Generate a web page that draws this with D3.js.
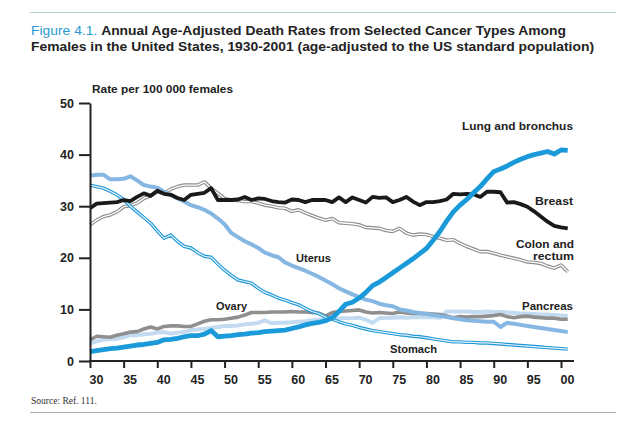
<!DOCTYPE html>
<html><head><meta charset="utf-8">
<script src="https://cdn.jsdelivr.net/npm/d3@7"></script>
<style>
html,body{margin:0;padding:0;background:#fff;}
svg{display:block;font-family:"Liberation Sans",Arial,Helvetica,sans-serif;}
</style></head>
<body>
<svg id="chart" width="640" height="423"></svg>
<script>
const startYear = 1930;
const endYear = 2001;
const xTickValues = [1930,1935,1940,1945,1950,1955,1960,1965,1970,1975,1980,1985,1990,1995,2000];
const yTickValues = [0,10,20,30,40,50];

const lung = [1.8,2.0,2.2,2.4,2.5,2.7,2.9,3.1,3.2,3.4,3.6,4.1,4.2,4.4,4.7,4.9,4.9,5.2,5.9,4.7,
  4.8,4.9,5.1,5.2,5.4,5.5,5.7,5.8,5.9,6.0,6.3,6.6,7.0,7.3,7.5,7.8,8.4,9.6,11.0,11.4,
  12.2,13.3,14.6,15.3,16.2,17.1,18.0,18.9,19.8,20.8,21.8,23.4,25.1,27.1,28.9,30.2,31.3,32.6,33.8,35.3,
  36.7,37.2,37.8,38.5,39.1,39.6,40.0,40.3,40.6,40.1,40.9,40.8];
const breast = [29.6,30.5,30.6,30.7,30.8,31.2,31.0,31.8,32.5,32.0,33.0,32.4,32.2,31.6,31.2,32.2,32.4,32.6,33.5,31.2,
  31.2,31.2,31.3,31.8,31.2,31.5,31.4,31.0,30.8,30.7,31.3,31.2,30.8,31.2,31.2,31.2,30.8,31.7,30.8,31.7,
  31.2,30.7,31.8,31.6,31.7,30.8,31.2,31.8,30.9,30.2,30.8,30.8,31.0,31.3,32.4,32.3,32.4,32.3,31.8,32.8,
  32.8,32.7,30.7,30.8,30.4,29.9,29.0,28.0,27.0,26.2,25.9,25.7];
const colon = [26.4,27.3,28.0,28.3,28.9,29.9,30.1,30.6,31.5,32.0,32.8,32.5,33.3,33.8,34.1,34.1,34.1,34.7,33.5,32.5,
  31.5,31.2,31.1,30.9,30.9,30.6,30.2,30.0,29.7,29.6,29.0,29.3,28.7,28.2,27.7,27.3,27.6,26.8,26.7,26.6,
  26.4,25.9,25.8,25.7,25.3,25.1,25.7,24.8,24.4,24.6,24.5,24.1,23.8,23.4,23.5,22.8,22.2,21.7,21.2,21.2,
  20.9,20.5,20.2,19.9,19.6,19.2,19.1,18.9,18.4,18.0,18.6,17.3];
const stomach = [34.1,33.8,33.5,32.9,32.2,31.3,30.0,28.9,27.8,26.7,25.2,23.8,24.4,23.2,22.2,21.9,21.0,20.3,20.1,18.8,
  17.6,16.6,15.7,15.4,15.1,14.1,13.3,12.8,12.2,11.8,11.3,10.9,10.2,9.6,9.2,8.5,8.1,7.6,7.2,6.9,
  6.5,6.2,5.9,5.7,5.5,5.3,5.1,5.0,4.8,4.7,4.5,4.3,4.1,3.9,3.7,3.7,3.6,3.6,3.5,3.5,
  3.4,3.3,3.2,3.1,3.0,2.9,2.8,2.7,2.6,2.5,2.4,2.3];
const uterus = [35.9,36.1,36.1,35.2,35.2,35.3,35.8,35.0,34.1,33.8,33.6,32.8,32.2,31.5,30.9,30.2,29.8,29.3,28.6,27.6,
  26.5,24.8,24.0,23.2,22.6,21.9,21.0,20.5,20.1,19.1,18.5,18.0,17.5,16.9,16.3,15.6,14.9,14.1,13.5,12.9,
  12.4,11.9,11.6,11.1,10.8,10.6,10.0,9.8,9.5,9.3,9.1,8.9,8.7,8.5,8.3,8.1,7.9,7.8,7.7,7.6,
  7.6,6.6,7.4,7.2,7.0,6.8,6.6,6.4,6.2,6.0,5.8,5.6];
const ovary = [4.1,4.8,4.7,4.6,5.0,5.3,5.6,5.7,6.2,6.6,6.2,6.7,6.8,6.8,6.7,6.7,7.2,7.7,8.0,8.0,
  8.1,8.3,8.5,8.9,9.4,9.4,9.4,9.5,9.5,9.5,9.6,9.5,9.5,9.4,9.3,8.7,9.4,9.6,9.7,9.8,
  9.9,9.5,9.3,9.4,9.3,9.2,9.5,9.3,9.2,9.2,9.2,9.1,9.0,8.7,8.4,8.6,8.5,8.6,8.6,8.7,
  8.8,9.0,8.6,8.4,8.6,8.7,8.5,8.4,8.3,8.3,8.1,8.1];
const pancreas = [3.4,3.8,4.1,4.2,4.3,4.6,5.0,5.0,5.2,5.3,5.5,5.6,5.3,5.5,5.6,6.0,6.1,6.2,6.4,6.6,
  6.8,6.8,6.9,7.1,7.2,7.4,7.9,7.3,7.4,7.4,7.5,7.6,7.7,7.9,8.0,8.1,8.2,8.3,8.3,8.3,
  8.4,8.0,7.4,8.3,8.4,8.4,8.5,8.4,8.5,8.5,8.5,8.5,8.4,9.6,9.6,9.6,9.6,9.5,9.5,9.6,
  9.5,9.5,9.4,9.3,9.2,9.2,9.1,9.0,9.0,8.9,8.8,8.7];

const years = d3.range(startYear, endYear + 1);

const svg = d3.select("#chart");
const x = d3.scaleLinear().domain([1930, 2000]).range([90, 561]);
const y = d3.scaleLinear().domain([0, 50]).range([361, 103]);

// rules
svg.append("line").attr("x1",30).attr("x2",616).attr("y1",12.5).attr("y2",12.5)
  .attr("stroke","#a9d6d3").attr("stroke-width",1.2);
svg.append("line").attr("x1",30).attr("x2",616).attr("y1",412.5).attr("y2",412.5)
  .attr("stroke","#b0b0b0").attr("stroke-width",1.2);

// title
const t1 = svg.append("text").attr("x",31).attr("y",34.5).attr("font-size",12.8)
  .attr("textLength",535).attr("lengthAdjust","spacingAndGlyphs");
t1.append("tspan").attr("fill","#2a9bd2").text("Figure 4.1. ");
t1.append("tspan").attr("fill","#222").attr("font-weight","bold").text("Annual Age-Adjusted Death Rates from Selected Cancer Types Among");
svg.append("text").attr("x",31).attr("y",50.5).attr("font-size",12.8).attr("font-weight","bold")
  .attr("fill","#222").attr("textLength",563).attr("lengthAdjust","spacingAndGlyphs")
  .text("Females in the United States, 1930-2001 (age-adjusted to the US standard population)");

svg.append("text").attr("x",92).attr("y",92.5).attr("font-size",10).attr("font-weight","bold")
  .attr("fill","#222").attr("textLength",141).attr("lengthAdjust","spacingAndGlyphs")
  .text("Rate per 100 000 females");

svg.append("text").attr("x",31).attr("y",404).attr("font-size",9.5)
  .attr("font-family","'Liberation Serif','DejaVu Serif',serif").attr("fill","#333")
  .text("Source: Ref. 111.");

// series
const line = d3.line().x((d,i)=>x(years[i])).y(d=>y(d));
function draw(data, color, width, inner){
  svg.append("path").datum(data).attr("d",line).attr("fill","none")
    .attr("stroke",color).attr("stroke-width",width)
    .attr("stroke-linejoin","round").attr("stroke-linecap","butt");
  if(inner){
    svg.append("path").datum(data).attr("d",line).attr("fill","none")
      .attr("stroke",inner.color).attr("stroke-width",inner.width)
      .attr("stroke-linejoin","round");
  }
}
draw(pancreas, "#c3dbf1", 4);
draw(ovary, "#8f8f8f", 3.6);
draw(colon, "#8d8d8d", 3.6, {color:"#ffffff", width:1.3});
draw(uterus, "#86b7e2", 4);
draw(stomach, "#1d97d5", 3.4, {color:"#e6f3fb", width:1.2});
draw(breast, "#1a1a1a", 3.8);
draw(lung, "#1a9ad8", 4.8);

// axes
const axisColor = "#222";
const yAxis = svg.append("g").attr("transform","translate(90,0)")
  .call(d3.axisLeft(y).tickValues(yTickValues).tickSize(11).tickSizeOuter(0).tickPadding(5));
yAxis.select(".domain").attr("stroke",axisColor).attr("stroke-width",2);
yAxis.selectAll(".tick line").attr("stroke",axisColor).attr("stroke-width",2);
yAxis.selectAll(".tick text").attr("font-size",12.5).attr("font-weight","bold").attr("fill","#222")
  .attr("font-family","'Liberation Sans',Arial,sans-serif");

const xAxis = svg.append("g").attr("transform","translate(0,361)")
  .call(d3.axisBottom(x).tickValues(xTickValues).tickSize(7).tickSizeOuter(0).tickPadding(7)
    .tickFormat(d=>String(d%100).padStart(2,"0")));
xAxis.select(".domain").remove();
xAxis.append("line").attr("x1",89).attr("x2",574).attr("y1",0).attr("y2",0)
  .attr("stroke",axisColor).attr("stroke-width",2);
xAxis.selectAll(".tick line").attr("stroke",axisColor).attr("stroke-width",2);
xAxis.selectAll(".tick text").attr("font-size",12.5).attr("font-weight","bold").attr("fill","#222")
  .attr("text-anchor","start").attr("x",-1)
  .attr("font-family","'Liberation Sans',Arial,sans-serif");

// series labels
const labels = [
  {t:"Lung and bronchus", x:573, y:129.5, a:"end", w:111},
  {t:"Breast", x:573, y:204.5, a:"end", w:38},
  {t:"Colon and", x:574, y:248, a:"end", w:58},
  {t:"rectum", x:574, y:260, a:"end", w:41},
  {t:"Pancreas", x:573, y:310, a:"end", w:51},
  {t:"Stomach", x:390, y:353, a:"start", w:47},
  {t:"Uterus", x:296, y:262, a:"start", w:35},
  {t:"Ovary", x:216, y:310, a:"start", w:31}
];
svg.append("g").selectAll("text").data(labels).join("text")
  .attr("x",d=>d.x).attr("y",d=>d.y).attr("text-anchor",d=>d.a)
  .attr("textLength",d=>d.w).attr("lengthAdjust","spacingAndGlyphs")
  .attr("font-size",11.5).attr("font-weight","bold").attr("fill","#222").text(d=>d.t);
</script>
</body></html>
